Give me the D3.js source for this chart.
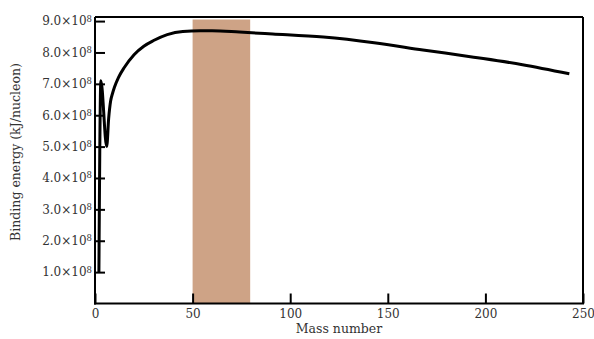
<!DOCTYPE html>
<html><head><meta charset="utf-8">
<script src="https://cdn.jsdelivr.net/npm/d3@7"></script>
<style>body{margin:0;background:#fff}svg{display:block}text{font-family:"DejaVu Serif",serif;fill:#333}</style>
</head><body><svg id="c" width="594" height="339"></svg>
<script>
const massNumbers = [2, 3, 6, 7, 8, 9, 10, 12, 15, 20, 25, 30, 37, 45, 54, 60, 74, 91, 117, 143, 168, 194, 219, 243];
const bindingEnergy = [1.0e8, 7.1e8, 5.0e8, 5.9e8, 6.45e8, 6.7e8, 6.9e8, 7.2e8, 7.52e8, 7.93e8, 8.2e8, 8.38e8, 8.57e8, 8.67e8, 8.69e8, 8.69e8, 8.65e8, 8.59e8, 8.49e8, 8.31e8, 8.08e8, 7.85e8, 7.61e8, 7.32e8];
const xTicks = [0, 50, 100, 150, 200, 250];
const yTicks = [1e8, 2e8, 3e8, 4e8, 5e8, 6e8, 7e8, 8e8, 9e8];
const bandRange = [50, 79.5];
const bandTop = 9.05e8;

const svg = d3.select("#c");
const m = {l: 95, r: 583, t: 17, b: 303.5};
const x = d3.scaleLinear().domain([0, 250]).range([m.l, m.r]);
const y = d3.scaleLinear().domain([0, 9.13e8]).range([m.b, m.t]);

svg.append("rect").attr("x", x(bandRange[0])).attr("width", x(bandRange[1]) - x(bandRange[0]))
  .attr("y", y(bandTop)).attr("height", y(0) - y(bandTop)).attr("fill", "#cea386");

svg.append("line").attr("x1", m.l).attr("x2", m.r).attr("y1", m.t).attr("y2", m.t).attr("stroke", "#000").attr("stroke-width", 2);
svg.append("line").attr("x1", m.r).attr("x2", m.r).attr("y1", m.t).attr("y2", m.b).attr("stroke", "#000").attr("stroke-width", 2);

const xAxis = svg.append("g").attr("transform", `translate(0,${m.b})`)
  .call(d3.axisBottom(x).tickValues(xTicks).tickSizeInner(-10).tickSizeOuter(0).tickPadding(6).tickFormat(d3.format("d")));
const yAxis = svg.append("g").attr("transform", `translate(${m.l},0)`)
  .call(d3.axisLeft(y).tickValues(yTicks).tickSizeInner(-10).tickSizeOuter(0).tickFormat(() => ""));
[xAxis, yAxis].forEach(g => {
  g.select(".domain").attr("stroke", "#000").attr("stroke-width", 2);
  g.selectAll(".tick line").attr("stroke", "#000").attr("stroke-width", 2);
  g.selectAll("text").style("font-family", '"DejaVu Serif",serif').style("font-size", "12px").attr("fill", "#333");
});
xAxis.select(".domain").attr("d", `M${m.l - 1},0H${m.r + 1}`);
yAxis.select(".domain").attr("d", `M0,${m.t}V${m.b + 1}`);

yAxis.selectAll(".tick").each(function(d) {
  const t = d3.select(this).append("text").attr("x", -3).attr("dy", "0.32em").attr("text-anchor", "end")
    .style("font-size", "12px").attr("fill", "#333");
  t.append("tspan").text((d / 1e8).toFixed(1) + "\u00d710");
  t.append("tspan").attr("dy", "-0.45em").style("font-size", "8.5px").text("8");
});

const line = d3.line().curve(d3.curveMonotoneX).x((d, i) => x(massNumbers[i])).y(d => y(d));
svg.append("path").datum(bindingEnergy).attr("d", line).attr("fill", "none")
  .attr("stroke", "#000").attr("stroke-width", 3).attr("stroke-linejoin", "round");

svg.append("text").attr("x", (m.l + m.r) / 2).attr("y", 333).attr("text-anchor", "middle")
  .style("font-size", "12.5px").text("Mass number");
svg.append("text").attr("transform", "translate(20,152) rotate(-90)").attr("text-anchor", "middle")
  .style("font-size", "12.5px").text("Binding energy (kJ/nucleon)");
</script></body></html>
